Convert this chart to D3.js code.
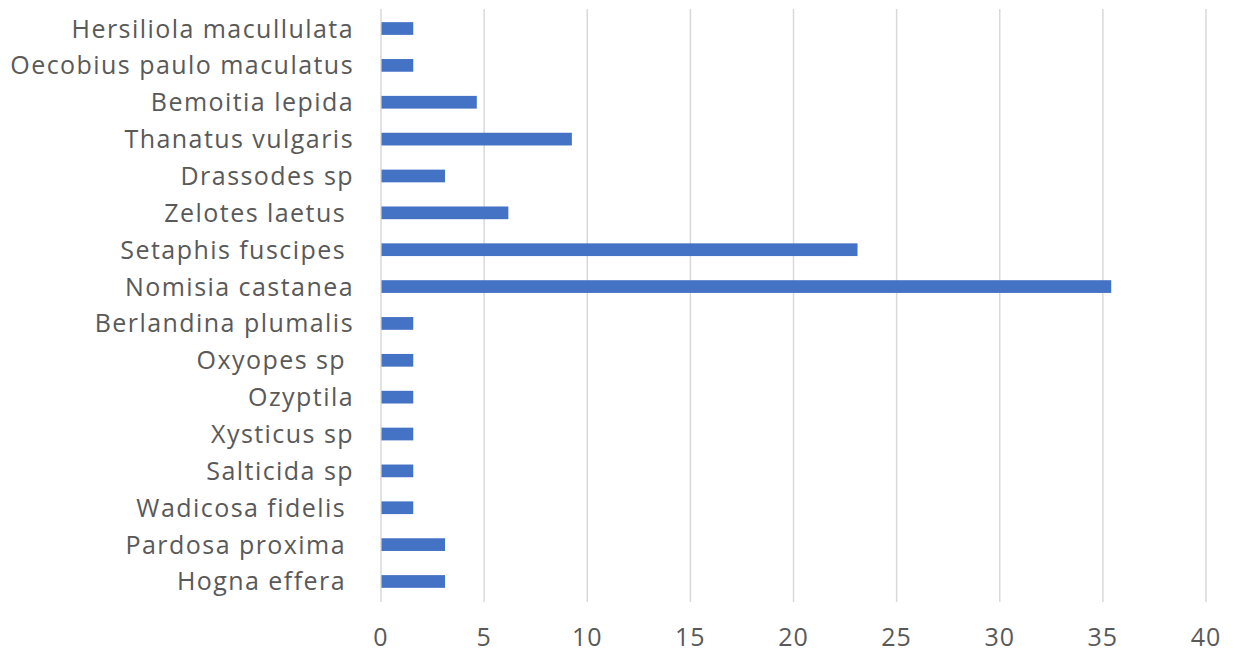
<!DOCTYPE html>
<html>
<head>
<meta charset="utf-8">
<script src="https://cdn.jsdelivr.net/npm/d3@7"></script>
<style>
  body { margin: 0; background: #fff; }
  text { font-family: 'Open Sans', sans-serif; fill: #595959; white-space: pre; }
</style>
</head>
<body>
<div id="chart"></div>
<script>
// species names, top to bottom as shown
const species = [
  'Hersiliola macullulata', 'Oecobius paulo maculatus', 'Bemoitia lepida',
  'Thanatus vulgaris', 'Drassodes sp', 'Zelotes laetus ', 'Setaphis fuscipes ',
  'Nomisia castanea', 'Berlandina plumalis', 'Oxyopes sp ', 'Ozyptila',
  'Xysticus sp', 'Salticida sp', 'Wadicosa fidelis ', 'Pardosa proxima ',
  'Hogna effera '
];
const values = [
  1.54, 1.54, 4.62, 9.23, 3.08, 6.15, 23.08, 35.38,
  1.54, 1.54, 1.54, 1.54, 1.54, 1.54, 3.08, 3.08
];
const xTicks = [0, 5, 10, 15, 20, 25, 30, 35, 40];

const W = 1241, H = 655;
const margin = { top: 10, right: 35, bottom: 55, left: 381 };
const width = W - margin.left - margin.right,
  height = H - margin.top - margin.bottom;

const svg = d3.select('#chart').append('svg')
  .attr('width', W).attr('height', H)
  .append('g')
  .attr('transform', 'translate(' + margin.left + ',' + margin.top + ')');

const x = d3.scaleLinear().domain([0, 40]).range([0, width]);
const y = d3.scaleBand().domain(species).range([0, height]).paddingInner(0.655).paddingOuter(0.33);

// gridlines
svg.append('g')
  .selectAll('line')
  .data(xTicks)
  .join('line')
  .attr('x1', d => x(d)).attr('x2', d => x(d))
  .attr('y1', -1).attr('y2', height + 2)
  .attr('stroke', '#d9d9d9')
  .attr('stroke-width', 1.5);

// bars
svg.append('g')
  .selectAll('rect')
  .data(values)
  .join('rect')
  .attr('x', x(0) + 0.5)
  .attr('y', (d, i) => y(species[i]))
  .attr('width', d => x(d) - x(0))
  .attr('height', y.bandwidth())
  .attr('fill', '#4472c4');

// category labels
svg.append('g')
  .selectAll('text')
  .data(species)
  .join('text')
  .attr('x', -27)
  .attr('y', d => y(d) + y.bandwidth() / 2)
  .attr('dy', '0.36em')
  .attr('text-anchor', 'end')
  .style('font-size', '25px')
  .style('letter-spacing', '1.45px')
  .text(d => d);

// x tick labels
svg.append('g')
  .selectAll('text')
  .data(xTicks)
  .join('text')
  .attr('x', d => x(d))
  .attr('y', height + 46)
  .attr('text-anchor', 'middle')
  .style('font-size', '25px')
  .style('letter-spacing', '1px')
  .text(d => d);
</script>
</body>
</html>
